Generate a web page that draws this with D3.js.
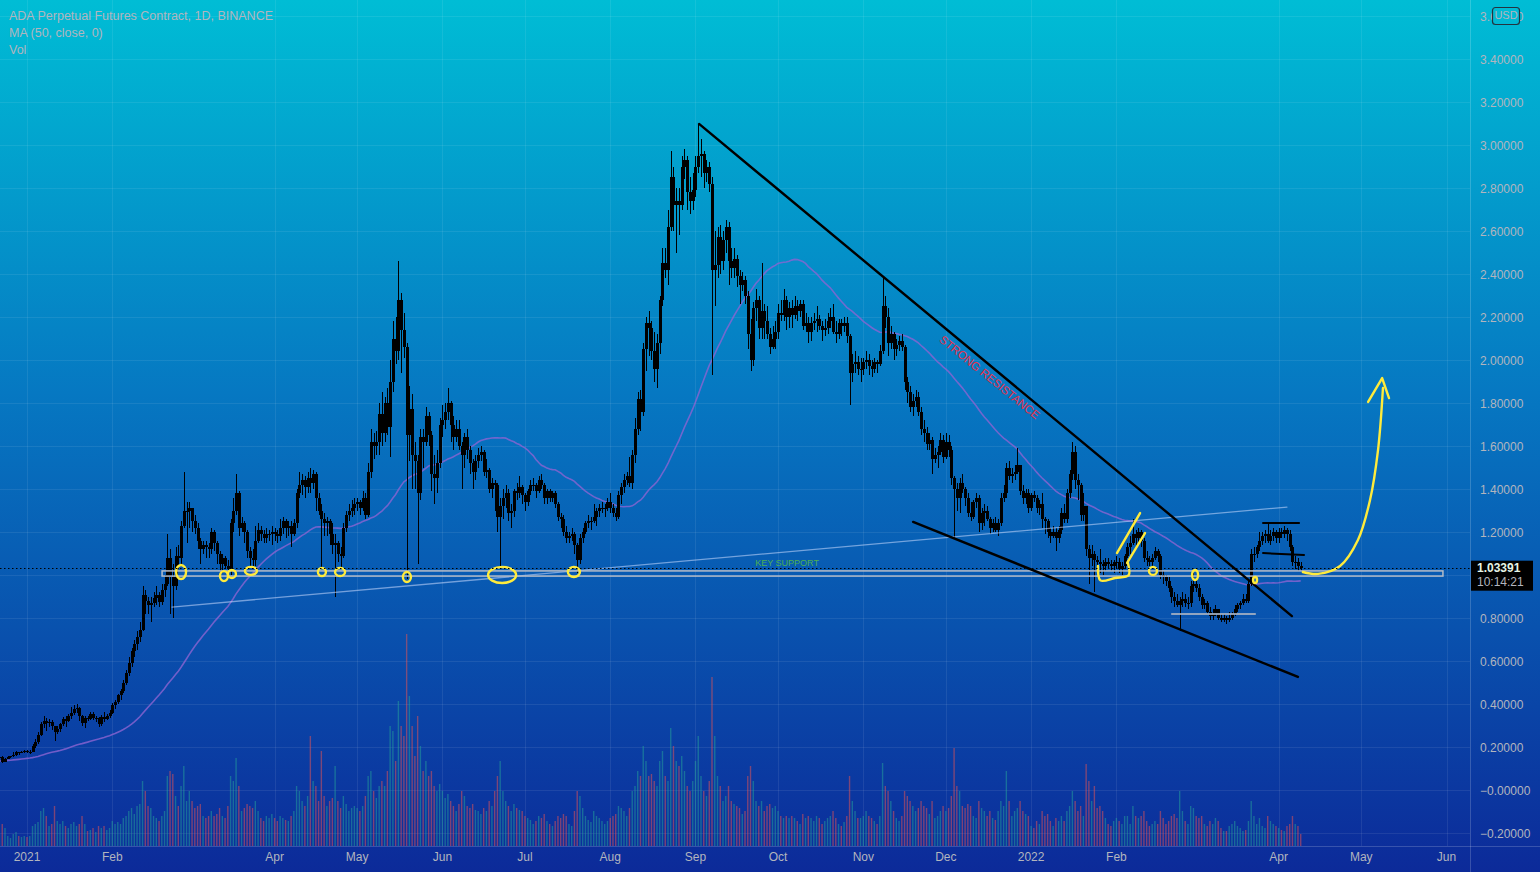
<!DOCTYPE html>
<html>
<head>
<meta charset="utf-8">
<script src="https://cdn.jsdelivr.net/npm/d3@7"></script>
<style>
html, body { margin: 0; padding: 0; background: #0b2c9a; }
svg { display: block; }
</style>
</head>
<body>
<script>
// ADA perpetual, daily candles from 2020-12-22 to 2022-04-09
const firstDay = Date.UTC(2020, 11, 22);

// closes for 2020-11-03 .. 2020-12-21, only used to warm up the MA(50)
const maSeed = [.094,.097,.102,.107,.103,.107,.106,.104,.104,.102,.104,.101,.100,.104,.107,.110,.111,.119,.131,.142,.163,.155,.150,.129,.134,.140,.147,.158,
  .153,.157,.165,.150,.159,.162,.158,.146,.148,.143,.138,.149,.154,.153,.152,.162,.166,.168,.170,.163,.150];

const closes = [
  .155,.130,.146,.152,.156,.163,.176,.172,.178,.181,
  .175,.178,.205,.225,.258,.305,.320,.312,.315,.300,.272,.285,.305,.330,.322,.345,.360,.375,.380,.345,.310,.335,.330,.355,.335,.335,.305,.340,.330,.345,.360,
  .395,.410,.440,.460,.500,.545,.590,.645,.680,.710,.745,.905,.880,.860,.870,.895,.905,.875,.930,.960,1.080,.990,.950,1.090,1.080,1.230,1.300,1.300,
  1.310,1.250,1.220,1.160,1.120,1.140,1.130,1.120,1.200,1.150,1.100,1.050,1.080,1.040,1.030,1.240,1.300,1.380,1.220,1.240,1.200,1.110,1.080,1.070,1.160,1.210,1.190,1.170,1.190,1.190,1.200,
  1.190,1.180,1.220,1.250,1.220,1.230,1.190,1.240,1.380,1.420,1.440,1.410,1.450,1.430,1.470,1.360,1.300,1.260,1.240,1.250,1.190,1.140,1.150,1.100,1.090,1.220,1.280,1.300,1.310,1.330,
  1.340,1.310,1.360,1.280,1.480,1.620,1.600,1.620,1.750,1.660,1.800,1.690,1.900,2.100,2.040,2.280,2.140,2.060,1.650,1.770,1.560,1.530,1.380,1.640,1.620,1.740,1.650,1.470,1.450,1.520,1.700,
  1.720,1.760,1.800,1.700,1.640,1.680,1.600,1.560,1.640,1.580,1.520,1.480,1.530,1.560,1.570,1.480,1.490,1.400,1.430,1.420,1.270,1.320,1.360,1.380,1.290,1.300,1.390,1.380,1.410,1.370,
  1.340,1.390,1.420,1.420,1.390,1.440,1.420,1.360,1.390,1.360,1.380,1.330,1.270,1.260,1.200,1.170,1.180,1.190,1.140,1.070,1.170,1.200,1.240,1.250,1.250,1.270,1.300,1.310,1.310,1.310,1.340,
  1.310,1.290,1.270,1.370,1.410,1.440,1.460,1.430,1.560,1.680,1.820,1.760,2.050,2.170,2.150,2.040,1.960,2.080,2.280,2.450,2.420,2.620,2.850,2.720,2.740,2.720,2.900,2.930,2.780,2.740,2.790,
  2.900,2.950,2.960,2.870,2.900,2.820,2.420,2.440,2.570,2.460,2.560,2.620,2.460,2.430,2.470,2.390,2.350,2.370,2.300,2.120,2.000,2.240,2.280,2.150,2.230,2.180,2.120,2.060,2.100,2.130,
  2.220,2.210,2.280,2.200,2.240,2.210,2.250,2.230,2.260,2.160,2.170,2.130,2.170,2.180,2.190,2.160,2.140,2.150,2.180,2.200,2.130,2.120,2.170,2.160,2.170,2.110,1.940,1.980,1.990,1.960,1.960,
  1.990,2.000,1.970,1.960,1.990,1.980,2.040,2.250,2.200,2.080,2.120,2.050,2.070,2.090,2.060,1.900,1.850,1.780,1.810,1.830,1.760,1.680,1.660,1.610,1.630,1.540,1.560,1.570,1.630,1.550,
  1.620,1.580,1.450,1.400,1.360,1.430,1.400,1.360,1.290,1.270,1.340,1.360,1.240,1.290,1.300,1.260,1.220,1.240,1.210,1.240,1.360,1.380,1.500,1.460,1.470,1.480,1.510,1.390,1.360,1.380,1.310,
  1.370,1.360,1.310,1.330,1.260,1.250,1.200,1.180,1.200,1.170,1.210,1.290,1.260,1.380,1.470,1.570,1.440,1.420,1.280,1.320,1.120,1.080,1.100,1.070,1.060,1.050,1.040,1.060,1.050,1.040,1.060,
  1.060,1.030,1.040,1.090,1.130,1.150,1.190,1.170,1.200,1.160,1.080,1.070,1.060,1.080,1.110,1.090,1.000,0.990,0.970,0.940,0.900,0.880,0.860,0.880,0.890,0.870,0.870,0.950,
  0.960,0.940,0.900,0.860,0.870,0.830,0.810,0.820,0.840,0.800,0.790,0.800,0.790,0.800,0.820,0.840,0.860,0.870,0.890,0.880,0.960,1.100,1.100,1.130,1.160,1.180,1.190,1.160,1.180,1.200,1.170,
  1.200,1.190,1.210,1.190,1.130,1.060,1.060,1.040,1.03391
];

const highs = [
  .160,.158,.150,.156,.160,.178,.180,.178,.182,.185,
  .186,.185,.215,.235,.268,.315,.345,.335,.330,.325,.300,.300,.312,.340,.345,.355,.385,.395,.400,.385,.350,.345,.345,.365,.365,.345,.340,.350,.365,.355,.370,
  .405,.420,.445,.470,.510,.560,.620,.660,.700,.740,.780,.950,.930,.900,.900,.920,.950,.920,.960,1.000,1.190,1.120,1.050,1.130,1.140,1.250,1.480,1.340,
  1.340,1.310,1.280,1.240,1.170,1.160,1.160,1.150,1.220,1.210,1.160,1.110,1.100,1.090,1.070,1.260,1.360,1.470,1.390,1.270,1.250,1.210,1.130,1.120,1.230,1.240,1.230,1.210,1.220,1.210,1.230,
  1.220,1.210,1.260,1.270,1.260,1.250,1.250,1.260,1.400,1.480,1.470,1.460,1.480,1.500,1.490,1.480,1.380,1.330,1.290,1.270,1.260,1.240,1.190,1.160,1.130,1.240,1.300,1.330,1.350,1.360,
  1.360,1.350,1.390,1.380,1.520,1.680,1.660,1.670,1.800,1.850,1.830,1.870,2.000,2.180,2.200,2.460,2.310,2.220,2.080,1.880,1.840,1.620,1.560,1.680,1.680,1.780,1.760,1.670,1.560,1.580,1.730,
  1.790,1.800,1.870,1.810,1.740,1.720,1.720,1.620,1.660,1.680,1.600,1.540,1.560,1.590,1.600,1.580,1.540,1.500,1.450,1.440,1.430,1.360,1.400,1.420,1.400,1.330,1.400,1.430,1.460,1.420,
  1.380,1.400,1.440,1.450,1.430,1.460,1.470,1.430,1.400,1.400,1.390,1.390,1.340,1.290,1.280,1.230,1.200,1.220,1.200,1.150,1.190,1.220,1.250,1.280,1.270,1.330,1.310,1.330,1.340,1.330,1.360,
  1.380,1.330,1.310,1.390,1.430,1.470,1.480,1.550,1.580,1.730,1.850,1.860,2.080,2.200,2.230,2.180,2.130,2.120,2.300,2.520,2.520,2.700,2.970,2.900,2.800,2.800,2.950,2.980,2.950,2.850,2.870,
  2.950,3.100,3.030,2.970,2.930,2.920,2.850,2.600,2.620,2.630,2.600,2.650,2.640,2.520,2.520,2.490,2.420,2.410,2.390,2.320,2.190,2.270,2.330,2.300,2.450,2.260,2.250,2.150,2.160,2.180,
  2.260,2.280,2.330,2.300,2.270,2.280,2.300,2.280,2.280,2.280,2.220,2.200,2.200,2.220,2.250,2.210,2.180,2.190,2.220,2.240,2.260,2.180,2.190,2.190,2.200,2.200,2.120,2.030,2.040,2.020,2.010,
  2.010,2.040,2.030,2.000,2.010,2.000,2.070,2.380,2.300,2.240,2.160,2.130,2.100,2.110,2.120,2.070,1.920,1.880,1.840,1.860,1.850,1.780,1.720,1.690,1.660,1.640,1.590,1.600,1.660,1.650,
  1.660,1.650,1.600,1.460,1.430,1.450,1.470,1.410,1.380,1.340,1.350,1.380,1.370,1.310,1.330,1.320,1.270,1.260,1.270,1.260,1.380,1.420,1.520,1.530,1.500,1.510,1.590,1.510,1.420,1.400,1.400,
  1.380,1.390,1.370,1.350,1.380,1.270,1.260,1.220,1.230,1.220,1.230,1.310,1.330,1.400,1.490,1.620,1.600,1.470,1.430,1.380,1.320,1.140,1.140,1.110,1.090,1.120,1.070,1.080,1.080,1.070,1.070,
  1.090,1.080,1.060,1.100,1.150,1.180,1.260,1.210,1.220,1.210,1.170,1.110,1.090,1.100,1.130,1.120,1.100,1.020,1.000,0.990,0.950,0.920,0.910,0.900,0.920,0.910,0.900,0.970,
  1.010,0.980,0.960,0.910,0.890,0.880,0.850,0.840,0.860,0.840,0.820,0.820,0.810,0.830,0.830,0.860,0.870,0.880,0.910,0.910,0.980,1.120,1.130,1.140,1.200,1.200,1.210,1.240,1.210,1.220,1.210,
  1.220,1.220,1.230,1.220,1.210,1.140,1.090,1.080,1.060
];

const lows = [
  .145,.125,.128,.143,.150,.155,.160,.165,.170,.172,
  .170,.168,.175,.195,.215,.250,.290,.275,.295,.280,.230,.262,.270,.300,.295,.315,.330,.350,.360,.320,.300,.290,.320,.325,.325,.315,.295,.300,.315,.325,.335,
  .355,.375,.400,.420,.450,.490,.530,.570,.620,.650,.690,.740,.820,.820,.780,.850,.860,.850,.860,.900,.950,.820,.800,.930,1.030,1.040,1.220,1.150,
  1.220,1.200,1.190,1.120,1.050,1.100,1.080,1.080,1.100,1.110,1.050,1.020,1.010,1.030,0.990,1.000,1.200,1.280,1.180,1.200,1.150,1.080,1.040,1.030,1.040,1.150,1.160,1.150,1.150,1.160,1.140,
  1.160,1.150,1.160,1.190,1.170,1.180,1.130,1.180,1.220,1.360,1.370,1.360,1.380,1.380,1.400,1.300,1.280,1.030,1.180,1.180,1.140,1.100,0.900,1.060,1.030,1.080,1.200,1.250,1.270,1.280,
  1.300,1.280,1.300,1.260,1.270,1.450,1.540,1.560,1.560,1.600,1.620,1.650,1.550,1.850,1.980,2.000,1.940,2.010,0.980,1.530,1.400,1.400,1.050,1.350,1.500,1.600,1.600,1.390,1.330,1.380,1.500,
  1.640,1.680,1.720,1.620,1.580,1.620,1.580,1.400,1.500,1.540,1.470,1.400,1.440,1.500,1.530,1.460,1.450,1.380,1.360,1.300,1.200,1.040,1.260,1.310,1.250,1.220,1.270,1.350,1.360,1.330,
  1.300,1.320,1.370,1.390,1.360,1.380,1.400,1.330,1.330,1.340,1.340,1.310,1.250,1.220,1.180,1.150,1.150,1.160,1.100,1.010,1.050,1.150,1.190,1.220,1.210,1.240,1.230,1.270,1.290,1.270,1.300,
  1.290,1.270,1.250,1.260,1.330,1.380,1.420,1.410,1.400,1.520,1.650,1.670,1.740,1.950,2.020,2.000,1.900,1.870,2.030,2.250,2.380,2.350,2.600,2.600,2.500,2.580,2.700,2.840,2.700,2.680,2.700,
  2.760,2.870,2.850,2.800,2.830,2.780,1.930,2.250,2.380,2.400,2.420,2.500,2.350,2.380,2.380,2.340,2.260,2.320,2.260,2.050,1.950,1.970,2.180,2.100,2.100,2.100,2.100,2.030,2.050,2.050,
  2.100,2.180,2.180,2.140,2.150,2.150,2.190,2.180,2.200,2.140,2.130,2.080,2.090,2.140,2.130,2.140,2.090,2.110,2.120,2.150,2.120,2.080,2.100,2.110,2.130,2.080,1.790,1.900,1.940,1.930,1.900,
  1.930,1.960,1.930,1.920,1.940,1.940,1.970,2.030,2.150,2.020,2.050,2.000,2.020,2.040,2.040,1.860,1.800,1.760,1.740,1.780,1.740,1.650,1.620,1.580,1.580,1.470,1.520,1.500,1.560,1.520,
  1.540,1.550,1.420,1.170,1.300,1.290,1.380,1.320,1.270,1.250,1.260,1.310,1.200,1.210,1.230,1.250,1.190,1.200,1.200,1.180,1.230,1.340,1.360,1.440,1.430,1.440,1.470,1.370,1.330,1.330,1.290,
  1.300,1.340,1.290,1.280,1.220,1.190,1.170,1.150,1.170,1.110,1.150,1.190,1.240,1.240,1.360,1.440,1.400,1.350,1.250,1.250,1.090,0.960,1.040,0.920,1.020,1.010,1.000,1.020,1.030,1.020,1.010,
  1.030,1.010,1.000,1.030,1.080,1.100,1.140,1.120,1.150,1.130,1.060,1.040,1.040,1.040,1.070,1.060,0.980,0.960,0.950,0.920,0.870,0.850,0.850,0.740,0.850,0.850,0.840,0.850,
  0.920,0.920,0.880,0.840,0.840,0.820,0.790,0.790,0.810,0.790,0.780,0.780,0.770,0.780,0.790,0.810,0.830,0.840,0.860,0.870,0.870,0.950,1.060,1.080,1.110,1.140,1.150,1.150,1.140,1.160,1.150,
  1.150,1.170,1.170,1.160,1.110,1.040,1.030,1.020,1.020
];

// volume (millions of contracts, rough)
const volumes = [
  12,22,18,10,8,12,14,10,9,10,
  9,10,20,22,24,35,38,30,20,22,40,25,22,25,20,18,22,24,20,22,30,22,15,16,18,14,20,18,20,16,18,
  25,22,24,22,28,30,35,38,32,40,42,65,55,40,38,30,28,25,30,35,70,75,72,50,40,60,80,45,
  55,45,38,40,42,30,28,30,35,30,32,38,30,28,40,70,65,88,60,35,38,42,40,38,45,35,28,25,30,28,32,
  28,25,30,28,26,25,30,35,60,55,45,40,50,110,65,60,45,95,50,40,45,48,80,45,38,50,42,35,38,40,
  38,35,40,50,70,75,55,48,60,65,60,75,120,115,85,145,120,110,212,150,120,90,130,100,75,85,70,75,60,55,62,
  55,48,52,45,40,35,42,55,50,40,38,42,36,35,32,38,35,45,40,55,70,85,55,45,40,35,42,38,36,35,
  30,28,26,22,25,30,28,32,25,22,20,25,30,28,32,30,22,20,35,55,50,38,30,26,24,35,30,28,25,22,25,
  28,30,32,40,38,35,30,38,55,60,75,70,100,85,70,72,65,60,85,95,70,65,118,100,85,80,90,75,60,55,65,
  85,110,70,55,50,65,169,110,70,60,45,50,60,45,42,40,38,32,35,70,80,65,45,40,45,35,40,42,38,40,
  35,30,28,30,28,30,28,25,22,32,28,30,28,25,30,28,22,25,28,30,35,28,22,20,24,30,70,45,35,28,28,
  30,35,30,28,25,22,30,83,60,55,45,35,28,25,30,55,50,45,40,35,38,45,40,38,32,45,28,30,35,40,
  35,38,50,98,60,55,40,38,42,40,30,28,45,38,35,30,35,28,26,35,45,40,75,45,30,35,38,45,35,32,30,
  20,18,25,22,35,30,32,25,20,28,25,30,25,35,40,55,45,35,40,30,82,65,45,60,38,40,35,28,22,20,25,
  28,25,22,30,30,22,40,30,28,30,35,25,20,22,25,22,35,28,22,25,30,32,28,55,35,25,22,40,
  38,30,28,30,22,20,25,22,28,25,18,15,15,20,22,25,20,18,15,16,25,45,30,22,28,20,18,30,25,22,20,
  18,16,15,20,22,30,22,20,12
];

const yTicks = [-0.2, 0, 0.2, 0.4, 0.6, 0.8, 1.0, 1.2, 1.4, 1.6, 1.8, 2.0, 2.2, 2.4, 2.6, 2.8, 3.0, 3.2, 3.4, 3.6];
const xTickDates = ["2021-01-01","2021-02-01","2021-04-01","2021-05-01","2021-06-01","2021-07-01","2021-08-01","2021-09-01",
  "2021-10-01","2021-11-01","2021-12-01","2022-01-01","2022-02-01","2022-04-01","2022-05-01","2022-06-01"];
const xTickLabels = ["2021","Feb","Apr","May","Jun","Jul","Aug","Sep","Oct","Nov","Dec","2022","Feb","Apr","May","Jun"];

const legendLines = ["ADA Perpetual Futures Contract, 1D, BINANCE", "MA (50, close, 0)", "Vol"];

// drawings, as [days since 2021-01-01, price]
const blackLines = [
  [[244.3, 3.098], [459.8, 0.809]],
  [[322.1, 1.247], [462.0, 0.526]],
  [[449.3, 1.242], [462.4, 1.242]],
  [[449.3, 1.102], [464.2, 1.093]]
];
const thinLine = [[52.7, 0.851], [458.0, 1.316]];
const greyLine = [[416.2, 0.819], [446.4, 0.819]];
const keySupport = { from: 49.1, to: 514.7, low: 0.995, high: 1.019, labelDay: 276.3, labelPrice: 1.052 };
const resistanceLabel = { day: 349.7, price: 1.916, angle: 39 };
const yellowLoops = [
  [56.0, 1.014, 5, 7], [71.6, 0.995, 4, 5], [74.5, 1.005, 4, 4], [81.4, 1.019, 6, 4],
  [107.2, 1.014, 4, 4], [113.8, 1.014, 5, 4], [138.1, 0.991, 4, 5], [172.7, 1.0, 14, 8],
  [198.8, 1.014, 6, 5], [409.3, 1.019, 4, 4], [424.6, 1.0, 3, 5], [446.4, 0.977, 2, 3]
];
const yellowSwoosh = [[389.3, 1.042], [390.2, 0.975], [395.5, 0.986], [400.5, 1.0], [400.2, 1.056]];
const yellowStrokes = [
  [[396.2, 1.102], [404.6, 1.288]],
  [[399.9, 1.056], [406.4, 1.195]]
];
const arrowPath = [[463.8, 1.014], [469.3, 1.005], [477.3, 1.042], [483.8, 1.163], [488.2, 1.349], [491.1, 1.581], [492.9, 1.870]];
const arrowHead = [[487.5, 1.805], [492.6, 1.916], [495.1, 1.823]];

const W = 1540, H = 872, plotR = 1470, plotB = 846;
const DAY = 864e5;
const jan1 = Date.UTC(2021, 0, 1);

const x = d3.scaleUtc()
  .domain([new Date(jan1), new Date(Date.UTC(2022, 0, 1))])
  .range([27, 27 + 365 * 2.751]);
const y = d3.scaleLinear().domain([-0.2, 3.6]).range([833, 16]);
const vy = d3.scaleLinear().domain([0, 212]).range([plotB, plotB - 212]);

const at = (d, p) => [x(new Date(jan1 + d * DAY)), y(p)];

const bars = closes.map(function(c, i) {
  const o = i === 0 ? maSeed[maSeed.length - 1] : closes[i - 1];
  return { date: new Date(firstDay + i * DAY), o: o, c: c, h: Math.max(highs[i], o, c), l: Math.min(lows[i], o, c), v: volumes[i] };
});

const allCloses = maSeed.concat(closes);
const ma = closes.map(function(c, i) {
  return { date: bars[i].date, v: d3.mean(allCloses.slice(i, i + 50)) };
});

const svg = d3.select("body").append("svg").attr("width", W).attr("height", H);
const defs = svg.append("defs");
const grad = defs.append("linearGradient").attr("id", "bg")
  .attr("x1", 0).attr("y1", 0).attr("x2", 0).attr("y2", 1);
grad.append("stop").attr("offset", "0%").attr("stop-color", "#00bdd5");
grad.append("stop").attr("offset", "45%").attr("stop-color", "#0678c2");
grad.append("stop").attr("offset", "100%").attr("stop-color", "#0c2a99");
defs.append("clipPath").attr("id", "plot").append("rect").attr("width", plotR).attr("height", plotB);
// the USD badge hides the middle of the top price label
const topClip = defs.append("clipPath").attr("id", "topLabel");
topClip.append("rect").attr("x", plotR).attr("y", 0).attr("width", 22).attr("height", 30);
topClip.append("rect").attr("x", 1520).attr("y", 0).attr("width", 20).attr("height", 30);

svg.append("rect").attr("width", W).attr("height", H).attr("fill", "url(#bg)");

// grid
const grid = svg.append("g").attr("stroke", "rgba(255,255,255,0.08)").attr("stroke-width", 1);
yTicks.forEach(function(v) {
  const yy = Math.round(y(v)) + 0.5;
  grid.append("line").attr("x1", 0).attr("x2", plotR).attr("y1", yy).attr("y2", yy);
});
xTickDates.forEach(function(s) {
  const xx = Math.round(x(new Date(s + "T00:00:00Z"))) + 0.5;
  grid.append("line").attr("x1", xx).attr("x2", xx).attr("y1", 0).attr("y2", plotB);
});

const plot = svg.append("g").attr("clip-path", "url(#plot)");

// volume
plot.append("g").selectAll("rect").data(bars).enter().append("rect")
  .attr("x", function(d) { return x(d.date) - 0.7; })
  .attr("y", function(d) { return vy(d.v); })
  .attr("width", 1.4)
  .attr("height", function(d) { return plotB - vy(d.v); })
  .attr("fill", function(d) { return d.c >= d.o ? "rgba(38,166,154,0.5)" : "rgba(239,83,80,0.5)"; });

// MA 50
plot.append("path").datum(ma)
  .attr("fill", "none")
  .attr("stroke", "rgba(140,100,210,0.8)")
  .attr("stroke-width", 1.6)
  .attr("d", d3.line().x(function(d) { return x(d.date); }).y(function(d) { return y(d.v); }));

// candles
const candles = plot.append("g").attr("shape-rendering", "crispEdges");
candles.selectAll("line").data(bars).enter().append("line")
  .attr("x1", function(d) { return Math.round(x(d.date)) + 0.5; })
  .attr("x2", function(d) { return Math.round(x(d.date)) + 0.5; })
  .attr("y1", function(d) { return y(d.h); })
  .attr("y2", function(d) { return y(d.l); })
  .attr("stroke", "#000").attr("stroke-width", 1);
candles.selectAll("rect").data(bars).enter().append("rect")
  .attr("x", function(d) { return Math.round(x(d.date)) - 1; })
  .attr("y", function(d) { return y(Math.max(d.o, d.c)); })
  .attr("width", 3)
  .attr("height", function(d) { return Math.max(1, Math.abs(y(d.o) - y(d.c))); })
  .attr("fill", "#000");

// drawings
const draw = plot.append("g").attr("fill", "none").attr("stroke-linecap", "round");
const seg = d3.line().x(function(p) { return at(p[0], p[1])[0]; }).y(function(p) { return at(p[0], p[1])[1]; });

draw.append("path").attr("d", seg(thinLine)).attr("stroke", "rgba(205,220,255,0.55)").attr("stroke-width", 1.3);
draw.append("path").attr("d", seg(greyLine)).attr("stroke", "rgba(170,180,195,0.85)").attr("stroke-width", 2);

const ks0 = at(keySupport.from, keySupport.high), ks1 = at(keySupport.to, keySupport.low);
draw.append("rect").attr("x", ks0[0]).attr("y", ks0[1])
  .attr("width", ks1[0] - ks0[0]).attr("height", ks1[1] - ks0[1])
  .attr("stroke", "#b4bcc8").attr("stroke-width", 1.5);
const ksl = at(keySupport.labelDay, keySupport.labelPrice);
draw.append("text").attr("x", ksl[0]).attr("y", ksl[1])
  .attr("text-anchor", "middle").attr("dominant-baseline", "middle")
  .attr("fill", "#4caf50").attr("stroke", "none")
  .attr("font-family", "Liberation Sans, Arial, sans-serif").attr("font-size", 9)
  .text("KEY SUPPORT");

blackLines.forEach(function(l, i) {
  draw.append("path").attr("d", seg(l)).attr("stroke", "#000").attr("stroke-width", i < 2 ? 2.4 : 2);
});

const rl = at(resistanceLabel.day, resistanceLabel.price);
draw.append("text").attr("x", rl[0]).attr("y", rl[1])
  .attr("transform", "rotate(" + resistanceLabel.angle + "," + rl[0] + "," + rl[1] + ")")
  .attr("text-anchor", "middle").attr("dominant-baseline", "middle")
  .attr("fill", "#e8304a").attr("stroke", "none")
  .attr("font-family", "Liberation Sans, Arial, sans-serif").attr("font-size", 11.5)
  .text("STRONG RESISTANCE");

// yellow marks
const yel = draw.append("g").attr("stroke", "#ffeb3b").attr("stroke-width", 2.4).attr("stroke-linejoin", "round");
yellowLoops.forEach(function(e) {
  const c = at(e[0], e[1]);
  yel.append("ellipse").attr("cx", c[0]).attr("cy", c[1]).attr("rx", e[2]).attr("ry", e[3]);
});
const curve = d3.line().curve(d3.curveCatmullRom)
  .x(function(p) { return at(p[0], p[1])[0]; }).y(function(p) { return at(p[0], p[1])[1]; });
yel.append("path").attr("d", curve(yellowSwoosh));
yellowStrokes.forEach(function(l) { yel.append("path").attr("d", seg(l)); });
yel.append("path").attr("d", curve(arrowPath));
yel.append("path").attr("d", seg(arrowHead));

// last price line
const last = bars[bars.length - 1].c;
const ly = Math.round(y(last)) + 0.5;
svg.append("line").attr("x1", 0).attr("x2", plotR).attr("y1", ly).attr("y2", ly)
  .attr("stroke", "#000").attr("stroke-width", 1.2).attr("stroke-dasharray", "1.5,2.5");

// axis borders
svg.append("line").attr("x1", plotR + 0.5).attr("x2", plotR + 0.5).attr("y1", 0).attr("y2", H)
  .attr("stroke", "rgba(255,255,255,0.18)");
svg.append("line").attr("x1", 0).attr("x2", W).attr("y1", plotB + 0.5).attr("y2", plotB + 0.5)
  .attr("stroke", "rgba(255,255,255,0.18)");

const axisFont = "Liberation Sans, Arial, sans-serif";
const txtCol = "#b2b5be";

// price axis (labels under the last-price badge are hidden, as on the chart)
const fmt = function(v) { return v <= 0 ? "\u2212" + Math.abs(v).toFixed(5) : v.toFixed(5); };
const badgeTop = y(last) - 7, badgeBot = y(last) + 23;
const shown = yTicks.filter(function(v) { return y(v) + 6 < badgeTop || y(v) - 6 > badgeBot; });
svg.append("g").selectAll("text").data(shown).enter().append("text")
  .attr("x", 1480).attr("y", function(d) { return y(d) + 1.5; })
  .attr("dominant-baseline", "middle")
  .attr("clip-path", function(d) { return d === 3.6 ? "url(#topLabel)" : null; })
  .attr("fill", txtCol).attr("font-family", axisFont).attr("font-size", 12)
  .text(fmt);

// time axis
svg.append("g").selectAll("text").data(xTickDates).enter().append("text")
  .attr("x", function(d) { return x(new Date(d + "T00:00:00Z")); })
  .attr("y", 858)
  .attr("text-anchor", "middle").attr("dominant-baseline", "middle")
  .attr("fill", txtCol).attr("font-family", axisFont).attr("font-size", 12)
  .text(function(d, i) { return xTickLabels[i]; });

// USD badge
svg.append("rect").attr("x", 1492.5).attr("y", 7.5).attr("width", 27).attr("height", 17).attr("rx", 3)
  .attr("fill", "none").attr("stroke", "#24333f").attr("stroke-width", 1.2);
svg.append("text").attr("x", 1506).attr("y", 16.5)
  .attr("text-anchor", "middle").attr("dominant-baseline", "middle")
  .attr("fill", txtCol).attr("font-family", axisFont).attr("font-size", 11).text("USD");

// last price badge
svg.append("rect").attr("x", plotR + 1).attr("y", badgeTop).attr("width", 62).attr("height", 30).attr("fill", "#000");
svg.append("text").attr("x", 1477).attr("y", y(last) + 1.5)
  .attr("dominant-baseline", "middle").attr("font-weight", "bold")
  .attr("fill", "#e6f4e6").attr("font-family", axisFont).attr("font-size", 12)
  .text(last.toFixed(5));
svg.append("text").attr("x", 1477).attr("y", y(last) + 15)
  .attr("dominant-baseline", "middle")
  .attr("fill", txtCol).attr("font-family", axisFont).attr("font-size", 12)
  .text("10:14:21");

// legend
svg.append("g").selectAll("text").data(legendLines).enter().append("text")
  .attr("x", 9).attr("y", function(d, i) { return 17 + i * 17; })
  .attr("dominant-baseline", "middle")
  .attr("fill", txtCol).attr("font-family", axisFont).attr("font-size", 12.5)
  .text(function(d) { return d; });
</script>
</body>
</html>
